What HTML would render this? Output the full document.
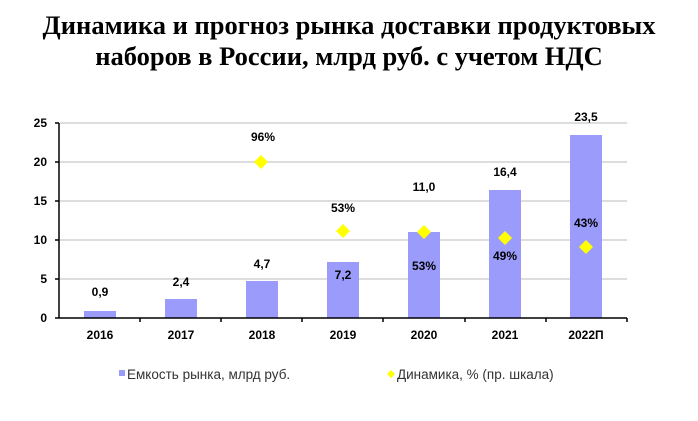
<!DOCTYPE html><html><head><style>body{margin:0;background:#fff}svg{display:block}</style></head><body>
<svg width="698" height="421" xmlns="http://www.w3.org/2000/svg">
<text x="349" y="34" text-anchor="middle" font-family="Liberation Serif" font-weight="bold" font-size="26.5">Динамика и прогноз рынка доставки продуктовых</text>
<text x="349" y="65" text-anchor="middle" font-family="Liberation Serif" font-weight="bold" font-size="26.5">наборов в России, млрд руб. с учетом НДС</text>
<g stroke="#ddd" stroke-width="2">
<line x1="60" y1="123" x2="627" y2="123"/><line x1="60" y1="162" x2="627" y2="162"/><line x1="60" y1="201" x2="627" y2="201"/><line x1="60" y1="240" x2="627" y2="240"/><line x1="60" y1="279" x2="627" y2="279"/>
</g>
<g fill="#9b9bfb">
<rect x="84" y="311" width="32" height="7"/><rect x="165" y="299" width="32" height="19"/><rect x="246" y="281" width="32" height="37"/><rect x="327" y="262" width="32" height="56"/><rect x="408" y="232" width="32" height="86"/><rect x="489" y="190" width="32" height="128"/><rect x="570" y="135" width="32" height="183"/>
</g>
<g stroke="#000" stroke-width="1.5">
<line x1="59" y1="123" x2="59" y2="318"/><line x1="59" y1="318" x2="627" y2="318"/>
<line x1="55" y1="123" x2="59" y2="123"/><line x1="55" y1="162" x2="59" y2="162"/><line x1="55" y1="201" x2="59" y2="201"/><line x1="55" y1="240" x2="59" y2="240"/><line x1="55" y1="279" x2="59" y2="279"/><line x1="55" y1="318" x2="59" y2="318"/>
<line x1="140" y1="318" x2="140" y2="322"/><line x1="221" y1="318" x2="221" y2="322"/><line x1="302" y1="318" x2="302" y2="322"/><line x1="383" y1="318" x2="383" y2="322"/><line x1="465" y1="318" x2="465" y2="322"/><line x1="546" y1="318" x2="546" y2="322"/><line x1="627" y1="318" x2="627" y2="322"/>
</g>
<g font-family="Liberation Sans" font-weight="bold" font-size="12" text-anchor="end">
<text x="47" y="127">25</text><text x="47" y="166">20</text><text x="47" y="205">15</text><text x="47" y="244">10</text><text x="47" y="283">5</text><text x="47" y="322">0</text>
</g>
<g font-family="Liberation Sans" font-weight="bold" font-size="12" text-anchor="middle">
<text x="100" y="339">2016</text><text x="181" y="339">2017</text><text x="262" y="339">2018</text><text x="343" y="339">2019</text><text x="424" y="339">2020</text><text x="505" y="339">2021</text><text x="586" y="339">2022П</text>
<text x="100" y="296">0,9</text><text x="181" y="286">2,4</text><text x="262" y="268">4,7</text><text x="343" y="279">7,2</text><text x="424" y="191">11,0</text><text x="505" y="176">16,4</text><text x="586" y="121">23,5</text>
<text x="263" y="141">96%</text><text x="343" y="212">53%</text><text x="424" y="270">53%</text><text x="505" y="260">49%</text><text x="586" y="227">43%</text>
</g>
<g fill="#ffff00">
<path d="M261 155l7 7-7 7-7-7z"/><path d="M343 224l7 7-7 7-7-7z"/><path d="M424 225l7 7-7 7-7-7z"/><path d="M505 231l7 7-7 7-7-7z"/><path d="M586 240l7 7-7 7-7-7z"/>
</g>
<rect x="119" y="370" width="6" height="6" fill="#9b9bfb"/>
<text x="127" y="379" font-family="Liberation Sans" font-size="13.5" fill="#333">Емкость рынка, млрд руб.</text>
<path d="M391 370l4 4-4 4-4-4z" fill="#ffff00"/>
<text x="397" y="379" font-family="Liberation Sans" font-size="13.5" fill="#333">Динамика, % (пр. шкала)</text>
</svg>
</body></html>
